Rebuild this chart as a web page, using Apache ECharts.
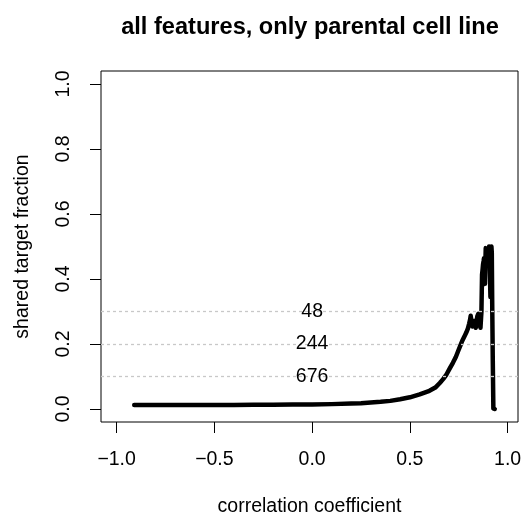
<!DOCTYPE html>
<html>
<head>
<meta charset="utf-8">
<script src="https://cdn.jsdelivr.net/npm/echarts@6/dist/echarts.min.js"></script>
<style>html,body{margin:0;padding:0;background:#fff}#c{width:525px;height:515px}</style>
</head>
<body>
<div id="c"></div>
<script>
// correlation coefficient threshold (x) and shared target fraction (y)
var corrX = [-0.91, -0.8, -0.7, -0.6, -0.5, -0.4, -0.3, -0.2, -0.1, 0.0, 0.1, 0.2, 0.25, 0.3, 0.35, 0.4, 0.45, 0.5, 0.55, 0.6, 0.63, 0.653, 0.67, 0.687, 0.704, 0.72, 0.735, 0.748, 0.758, 0.768, 0.778, 0.789, 0.797, 0.803, 0.808, 0.811, 0.815, 0.820, 0.824, 0.828, 0.833, 0.837, 0.841, 0.845, 0.850, 0.854, 0.858, 0.861, 0.864, 0.866, 0.869, 0.872, 0.874, 0.877, 0.879, 0.882, 0.884, 0.886, 0.888, 0.892, 0.895, 0.899, 0.902, 0.905, 0.907, 0.910, 0.912, 0.915, 0.917, 0.919, 0.921, 0.924, 0.927, 0.934];
var fracY = [0.012, 0.012, 0.012, 0.012, 0.012, 0.012, 0.013, 0.013, 0.014, 0.014, 0.015, 0.017, 0.018, 0.020, 0.022, 0.025, 0.030, 0.036, 0.045, 0.056, 0.066, 0.080, 0.092, 0.106, 0.125, 0.142, 0.160, 0.180, 0.195, 0.210, 0.222, 0.236, 0.248, 0.262, 0.275, 0.287, 0.270, 0.254, 0.262, 0.271, 0.258, 0.250, 0.268, 0.285, 0.293, 0.290, 0.262, 0.250, 0.280, 0.300, 0.413, 0.430, 0.444, 0.455, 0.464, 0.420, 0.385, 0.450, 0.495, 0.500, 0.480, 0.454, 0.470, 0.500, 0.470, 0.400, 0.345, 0.440, 0.500, 0.480, 0.331, 0.150, 0.002, 0.0];
var guideY = [0.3, 0.2, 0.1];
var guideText = ['48', '244', '676'];
var guideX = [0, 0, 0];
var xTicks = [-1.0, -0.5, 0.0, 0.5, 1.0];
var yTicks = [0.0, 0.2, 0.4, 0.6, 0.8, 1.0];

var curve = corrX.map(function (x, i) { return [x, fracY[i]]; });
var labelPts = guideX.map(function (x, i) { return { value: [x, guideY[i]], label: { formatter: guideText[i] } }; });

var FONT = '"Liberation Sans", Arial, Helvetica, sans-serif';
var FS = 19.5;
var chart = echarts.init(document.getElementById('c'), null, { renderer: 'canvas' });
chart.setOption({
  animation: false,
  backgroundColor: '#fff',
  title: {
    text: 'all features, only parental cell line',
    left: 305, top: 10, textAlign: 'center',
    textStyle: { fontFamily: FONT, fontWeight: 'bold', fontSize: 23.6, color: '#000' }
  },
  grid: { left: 101, right: 7, top: 71, bottom: 93, show: true, borderColor: '#000', borderWidth: 1, backgroundColor: 'transparent', containLabel: false, outerBoundsMode: 'none' },
  xAxis: {
    type: 'value', min: -1.08, max: 1.053,
    name: 'correlation coefficient', nameLocation: 'middle', nameGap: 75,
    nameTextStyle: { fontFamily: FONT, fontSize: FS, color: '#000' },
    axisLine: { show: false, onZero: false },
    axisTick: { show: true, length: 11, inside: false, lineStyle: { color: '#000', width: 1 }, customValues: xTicks },
    axisLabel: { show: true, margin: 28, fontFamily: FONT, fontSize: FS, color: '#000', customValues: xTicks,
      formatter: function (v) { return (v < 0 ? '\u2212' : '') + Math.abs(v).toFixed(1); } },
    splitLine: { show: false }
  },
  yAxis: {
    type: 'value', min: -0.04, max: 1.04,
    name: 'shared target fraction', nameLocation: 'middle', nameGap: 68, nameRotate: 90,
    nameTextStyle: { fontFamily: FONT, fontSize: FS, color: '#000' },
    axisLine: { show: false, onZero: false },
    axisTick: { show: true, length: 11, lineStyle: { color: '#000', width: 1 }, customValues: yTicks },
    axisLabel: { show: true, rotate: 90, margin: 27, fontFamily: FONT, fontSize: FS, color: '#000', customValues: yTicks,
      formatter: function (v) { return v.toFixed(1); } },
    splitLine: { show: false }
  },
  series: [
    {
      type: 'line', data: curve, symbol: 'none', silent: true,
      lineStyle: { color: '#000', width: 4.5, cap: 'round', join: 'round' },
      markLine: {
        silent: true, symbol: ['none', 'none'], label: { show: false },
        lineStyle: { color: '#c8c8c8', type: [3, 3], width: 1.3 },
        data: guideY.map(function (y) { return { yAxis: y }; })
      },
      z: 3
    },
    {
      type: 'scatter', data: labelPts, symbolSize: 0, silent: true,
      label: { show: true, position: 'inside', fontFamily: FONT, fontSize: FS, color: '#000', textBorderWidth: 0, opacity: 1 },
      itemStyle: { opacity: 1 },
      z: 10
    }
  ]
});
</script>
</body>
</html>
